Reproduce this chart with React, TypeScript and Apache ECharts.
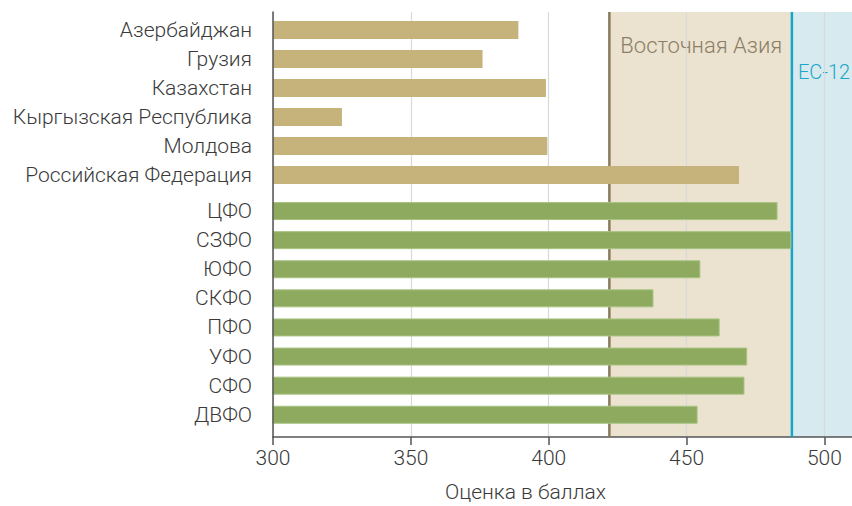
import React, { useEffect, useRef } from "react";
import * as echarts from "echarts";

const countries = ["Азербайджан", "Грузия", "Казахстан", "Кыргызская Республика", "Молдова", "Российская Федерация"];
const countryScores = [389, 376, 399, 325, 399.5, 469];
const districts = ["ЦФО", "СЗФО", "ЮФО", "СКФО", "ПФО", "УФО", "СФО", "ДВФО"];
const districtScores = [483, 488, 455, 438, 462, 472, 471, 454];
const xTicks = [300, 350, 400, 450, 500];
const eastAsia = 422;
const eu12 = 488.2;
const xMin = 300;
const xMax = 510;

const FONT = "Roboto, 'Noto Sans', sans-serif";
const W = 300;

export default function App() {
  const ref = useRef<HTMLDivElement>(null);
  useEffect(() => {
    const chart = echarts.init(ref.current!, null, { renderer: "svg" });
    const labelStyle = { color: "#3a3a3a", fontSize: 21, fontWeight: W, fontFamily: FONT, margin: 21 };
    const hiddenX = (gi: number) => ({
      type: "value", gridIndex: gi, min: xMin, max: xMax, show: false,
    });
    const catY = (gi: number, data: string[]) => ({
      type: "category", gridIndex: gi, data, inverse: true,
      axisLine: { show: false }, axisTick: { show: false }, splitLine: { show: false },
      axisLabel: labelStyle,
    });
    const refLine = (x: number, color: string) => ({
      type: "line", xAxisIndex: 0, yAxisIndex: 0, z: 1, silent: true,
      data: [[x, 0], [x, 1]], symbol: "none",
      lineStyle: { color, width: 2.5 },
    });
    chart.setOption({
      animation: false,
      grid: [
        { left: 273, right: 0, top: 12, bottom: 69 },
        { left: 273, right: 0, top: 15.5, height: 174 },
        { left: 273, right: 0, top: 196.5, height: 232.8 },
      ],
      xAxis: [
        {
          type: "value", gridIndex: 0, min: xMin, max: xMax, interval: 50, z: 0,
          axisLine: { show: true, lineStyle: { color: "#555", width: 1.5 } },
          axisTick: { show: true, length: 8, lineStyle: { color: "#555", width: 1.5 }, customValues: xTicks },
          axisLabel: { color: "#3a3a3a", fontSize: 21, fontWeight: W, fontFamily: FONT, margin: 10, customValues: xTicks },
          splitLine: { show: true, lineStyle: { color: "#d9d9d9", width: 1.2 } },
        },
        hiddenX(1),
        hiddenX(2),
      ],
      yAxis: [
        {
          type: "value", gridIndex: 0, min: 0, max: 1, z: 20,
          axisLine: { show: true, lineStyle: { color: "#555", width: 1.5 } },
          axisTick: { show: false }, axisLabel: { show: false }, splitLine: { show: false },
        },
        catY(1, countries),
        catY(2, districts),
      ],
      graphic: [
        {
          type: "text", left: 445, top: 481,
          style: { text: "Оценка в баллах", fill: "#3a3a3a", fontSize: 21, fontWeight: W, fontFamily: FONT },
        },
      ],
      series: [
        {
          type: "line", xAxisIndex: 0, yAxisIndex: 0, data: [], z: 0, silent: true,
          markArea: {
            silent: true, z: -1,
            data: [
              [
                { xAxis: eastAsia, itemStyle: { color: "#ebe3d0" },
                  label: { show: true, position: "insideTopLeft", formatter: "Восточная Азия", color: "#8c7e66", fontSize: 22, fontWeight: W, fontFamily: FONT, distance: 0, padding: [22, 0, 0, 11] } },
                { xAxis: eu12 },
              ],
              [
                { xAxis: eu12, itemStyle: { color: "#d7eaf0" },
                  label: { show: true, position: "insideTopLeft", formatter: "ЕС-12", color: "#1aa6c8", fontSize: 20, fontWeight: W, fontFamily: FONT, distance: 0, padding: [50, 0, 0, 6] } },
                { xAxis: xMax },
              ],
            ],
          },
        },
        refLine(eastAsia, "#8a7a5c"),
        refLine(eu12, "#14a7c9"),
        {
          type: "bar", xAxisIndex: 1, yAxisIndex: 1, data: countryScores, barWidth: 18, z: 10,
          itemStyle: { color: "#c5b37b" },
        },
        {
          type: "bar", xAxisIndex: 2, yAxisIndex: 2, data: districtScores, barWidth: 18, z: 10,
          itemStyle: { color: "#8eaa5f", borderColor: "#a8c382", borderWidth: 1 },
        },
      ],
    });
    return () => chart.dispose();
  }, []);
  return <div ref={ref} style={{ width: 852, height: 506, position: "absolute", left: 0, top: 0 }} />;
}
